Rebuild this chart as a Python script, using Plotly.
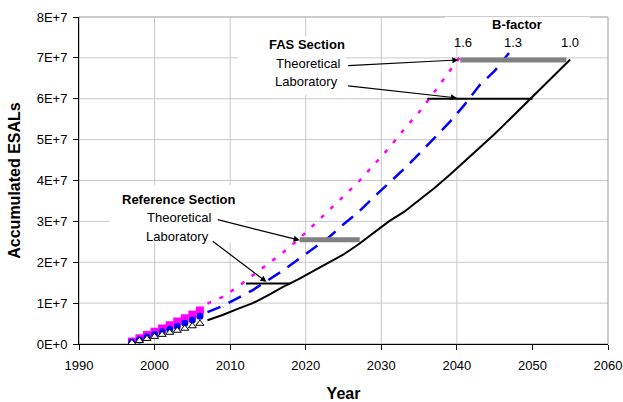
import plotly.graph_objects as go

# ---- observed accumulated ESALs (1997-2006), units of 1E+7 ----
obs_years = [1997, 1998, 1999, 2000, 2001, 2002, 2003, 2004, 2005, 2006]
obs_b16 = [0.06, 0.14, 0.22, 0.30, 0.38, 0.46, 0.55, 0.63, 0.72, 0.82]
obs_b13 = [0.04, 0.10, 0.17, 0.23, 0.30, 0.36, 0.43, 0.51, 0.59, 0.68]
obs_b10 = [0.03, 0.08, 0.13, 0.18, 0.23, 0.28, 0.33, 0.38, 0.44, 0.50]

# ---- projected accumulated ESALs (units of 1E+7) ----
proj_b16_years = [2007, 2009, 2011, 2013, 2015, 2017, 2019, 2021, 2023, 2025,
                  2027, 2029, 2031, 2033, 2035, 2037, 2039, 2040.4]
proj_b16 = [0.99, 1.15, 1.40, 1.68, 1.96, 2.24, 2.55, 2.90, 3.26, 3.62,
            3.97, 4.38, 4.79, 5.25, 5.67, 6.16, 6.66, 7.02]

proj_b13_years = [2007, 2009, 2011, 2013, 2015, 2017, 2019, 2021, 2023, 2025,
                  2027, 2029, 2031, 2033, 2035, 2037, 2039, 2041, 2043, 2045, 2046.9]
proj_b13 = [0.78, 0.93, 1.12, 1.32, 1.56, 1.80, 2.07, 2.33, 2.60, 2.93,
            3.23, 3.59, 3.93, 4.28, 4.65, 5.03, 5.42, 5.85, 6.33, 6.68, 7.12]

proj_b10_years = [2007, 2009, 2011, 2013, 2015, 2017, 2019, 2021, 2023, 2025,
                  2027, 2029, 2031, 2033, 2035, 2037, 2039, 2041, 2043, 2045,
                  2047, 2049, 2051, 2053, 2055]
proj_b10 = [0.58, 0.71, 0.86, 1.00, 1.19, 1.40, 1.58, 1.78, 1.98, 2.19,
            2.44, 2.72, 3.00, 3.23, 3.52, 3.81, 4.13, 4.46, 4.80, 5.14,
            5.50, 5.86, 6.22, 6.59, 6.96]

# ---- design-life ranges (years, level in 1E+7) ----
fas_theo_years, fas_theo_level = [2040.45, 2054.5], 6.95
fas_lab_years, fas_lab_level = [2036.1, 2050.0], 6.0
ref_theo_years, ref_theo_level = [2019.2, 2027.15], 2.55
ref_lab_years, ref_lab_level = [2012.1, 2017.9], 1.48

# ---- axes ----
x_ticks = [1990, 2000, 2010, 2020, 2030, 2040, 2050, 2060]
x_grid = [2000, 2010, 2020, 2030, 2040]
y_ticks = [0, 1, 2, 3, 4, 5, 6, 7, 8]
y_tick_labels = ["0E+0", "1E+7", "2E+7", "3E+7", "4E+7", "5E+7", "6E+7", "7E+7", "8E+7"]

SCALE = 1e7
FONT = "Liberation Sans, Arial, sans-serif"


def sc(vals):
    return [v * SCALE for v in vals]


fig = go.Figure()

# projected lines
fig.add_trace(go.Scatter(x=proj_b16_years, y=sc(proj_b16), mode="lines",
                         line=dict(color="#FF00FF", width=2.5, dash="4px,9px")))
fig.add_trace(go.Scatter(x=proj_b13_years, y=sc(proj_b13), mode="lines",
                         line=dict(color="#0000FF", width=2.5, dash="14px,9px")))
fig.add_trace(go.Scatter(x=proj_b10_years, y=sc(proj_b10), mode="lines",
                         line=dict(color="black", width=2)))

# design-life bars
for yrs, lvl, col, w in [(fas_theo_years, fas_theo_level, "#808080", 5),
                         (fas_lab_years, fas_lab_level, "black", 2),
                         (ref_theo_years, ref_theo_level, "#808080", 5),
                         (ref_lab_years, ref_lab_level, "black", 2)]:
    fig.add_trace(go.Scatter(x=yrs, y=[lvl * SCALE] * len(yrs), mode="lines",
                             line=dict(color=col, width=w)))

# observed markers
fig.add_trace(go.Scatter(x=obs_years, y=sc(obs_b16), mode="markers",
                         marker=dict(symbol="square", size=8, color="#FF00FF")))
fig.add_trace(go.Scatter(x=obs_years, y=sc(obs_b13), mode="markers",
                         marker=dict(symbol="circle", size=7, color="#0000FF")))
fig.add_trace(go.Scatter(x=obs_years, y=sc(obs_b10), mode="markers",
                         marker=dict(symbol="triangle-up", size=7, color="white",
                                     line=dict(color="black", width=1))))

shapes = []
# grid lines
for gx in x_grid:
    shapes.append(dict(type="line", xref="x", yref="paper", x0=gx, x1=gx, y0=0, y1=1,
                       line=dict(color="#c8c8c8", width=1), layer="below"))
for gy in y_ticks[1:-1]:
    shapes.append(dict(type="line", xref="paper", yref="y", x0=0, x1=1,
                       y0=gy * SCALE, y1=gy * SCALE,
                       line=dict(color="#c8c8c8", width=1), layer="below"))
# white label boxes
for x0, x1, y0, y1 in [(2011.0, 2025.3, 6.1, 7.52),
                       (1994.05, 2012.05, 2.49, 3.89),
                       (2038.4, 2057.6, 7.5, 8.0)]:
    shapes.append(dict(type="rect", xref="x", yref="y", x0=x0, x1=x1,
                       y0=y0 * SCALE, y1=y1 * SCALE, fillcolor="white",
                       line=dict(width=0), layer="below"))
# plot frame (top / right)
shapes.append(dict(type="rect", xref="paper", yref="paper", x0=0, x1=1, y0=0, y1=1,
                   line=dict(color="#999999", width=1), layer="below"))

annotations = []
texts = [
    ("<b>FAS Section</b>", 2020.19, 7.325),
    ("Theoretical", 2020.26, 6.87),
    ("Laboratory", 2020.13, 6.42),
    ("<b>Reference Section</b>", 2003.18, 3.53),
    ("Theoretical", 2003.18, 3.09),
    ("Laboratory", 2003.05, 2.64),
    ("<b>B-factor</b>", 2047.99, 7.82),
    ("1.6", 2040.81, 7.37),
    ("1.3", 2047.43, 7.37),
    ("1.0", 2054.94, 7.37),
]
for t, x, y in texts:
    annotations.append(dict(text=t, x=x, y=y * SCALE, xref="x", yref="y",
                            showarrow=False, xanchor="center", yanchor="middle",
                            font=dict(family=FONT, size=13, color="black")))

arrows = [
    # (tail x, tail y, head x, head y)
    (2025.42, 6.81, 2040.2, 6.95),
    (2025.42, 6.32, 2040.0, 6.02),
    (2008.17, 3.05, 2019.2, 2.54),
    (2007.5, 2.54, 2014.8, 1.52),
]
for ax, ay, x, y in arrows:
    annotations.append(dict(text="", x=x, y=y * SCALE, ax=ax, ay=ay * SCALE,
                            xref="x", yref="y", axref="x", ayref="y",
                            showarrow=True, arrowhead=2, arrowsize=1,
                            arrowwidth=1.2, arrowcolor="black"))

fig.update_layout(
    width=623, height=402,
    margin=dict(l=79, r=15, t=17, b=58),
    paper_bgcolor="white", plot_bgcolor="white",
    showlegend=False,
    shapes=shapes, annotations=annotations,
    font=dict(family=FONT, size=13, color="black"),
)
fig.update_xaxes(
    range=[1990, 2060], tickvals=x_ticks, showgrid=False, zeroline=False,
    automargin=False,
    showline=True, linecolor="black", linewidth=1,
    ticks="outside", ticklen=5, tickcolor="black", ticklabelstandoff=4,
    tickfont=dict(family=FONT, size=13, color="black"),
    title=dict(text="<b>Year</b>", font=dict(family=FONT, size=16, color="black"),
               standoff=17),
)
fig.update_yaxes(
    range=[0, 8 * SCALE], tickvals=[v * SCALE for v in y_ticks], ticktext=y_tick_labels,
    showgrid=False, zeroline=False, automargin=False,
    showline=True, linecolor="black", linewidth=1,
    ticks="outside", ticklen=5, tickcolor="black", ticklabelstandoff=3,
    tickfont=dict(family=FONT, size=13, color="black"),
    title=dict(text="<b>Accumulated ESALs</b>",
               font=dict(family=FONT, size=16, color="black"), standoff=12),
)

fig.write_html("out.html")
